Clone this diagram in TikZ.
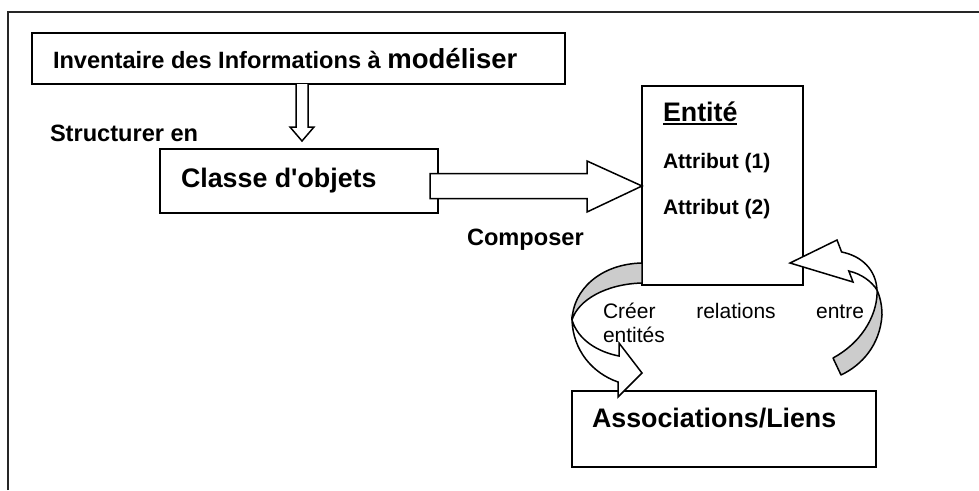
\documentclass[tikz,border=0pt]{standalone}
\usepackage{fontspec}
\setmainfont{Liberation Sans}
\begin{document}
\begin{tikzpicture}[x=1pt,y=-1pt,
  box/.style={draw=black, line width=2pt, fill=white, inner sep=0pt, outer sep=0pt},
  lbl/.style={inner sep=0pt, outer sep=0pt, anchor=base west},
  bmid/.style={font=\bfseries\fontsize{23.6}{28}\selectfont},
  bbig/.style={font=\bfseries\fontsize{26.8}{32}\selectfont},
  bsmall/.style={font=\bfseries\fontsize{21}{25}\selectfont},
  plain/.style={font=\fontsize{21}{24}\selectfont},
  blockarrow/.style={draw=black, line width=1.5pt, fill=white, line join=miter},
  backface/.style={draw=black, line width=1.5pt, fill=gray!40, line join=round},
  frontface/.style={draw=black, line width=1.5pt, fill=white, line join=miter}]
\useasboundingbox (0,0) rectangle (979,490);

% outer frame (left and top edges)
\coordinate (frameBL) at (8,490);
\coordinate (frameTL) at (8,12);
\coordinate (frameTR) at (979,12);
\draw[line width=2pt, black!85] (frameBL) -- (frameTL) -- (frameTR);

% boxes
\node[box, minimum width=533pt, minimum height=51pt] (inv) at (298.5,58.5) {};
\node[box, minimum width=278pt, minimum height=64pt] (classe) at (299,181) {};
\node[box, minimum width=161pt, minimum height=199pt] (entite) at (722.5,185.5) {};
\node[box, minimum width=304pt, minimum height=76pt] (assoc) at (724,429) {};

% hollow arrow: inventory -> object class
\coordinate (dtip) at (302,141);
\draw[blockarrow] (inv.south -| 296,0) -- (296,127) -- (290,127) -- (dtip)
  -- (314,127) -- (308,127) -- (inv.south -| 308,0);

% broad arrow: object class -> entity
\coordinate (rtip) at (entite.west);
\draw[blockarrow] (430,173.5) -- (587,173.5) -- (587,161) -- (rtip |- 0,186)
  -- (587,212) -- (587,198.5) -- (430,198.5) -- cycle;

% curved arrow from the entity down to the associations (left side)
\draw[backface] (642,263) .. controls (600,264) and (573,290) .. (572,320)
  .. controls (578,300) and (606,284) .. (642,283) -- cycle;
\draw[frontface] (572,320) .. controls (573,350) and (592,373) .. (618,382)
  -- (618,397) -- (642,373) -- (619,343) -- (619,356)
  .. controls (598,352) and (578,340) .. (572,320) -- cycle;

% curved arrow from the associations back up to the entity (right side)
\draw[backface] (877,290) .. controls (878,310) and (866,340) .. (833,358)
  -- (841,375) .. controls (862,365) and (880,345) .. (882,315)
  .. controls (882,305) and (880,297) .. (877,290) -- cycle;
\draw[frontface] (841.6,252) .. controls (862,256) and (876,270) .. (877,290)
  .. controls (872,282) and (862,274) .. (848.8,271)
  -- (853,282) -- (790,263) -- (837,240) -- cycle;

% texts
\node[lbl, bmid] (invtxt) at (53,68)
  {Inventaire des Informations à {\fontsize{27.5}{32}\selectfont modéliser}};
\node[lbl, bmid] (struct) at (50,141) {Structurer en};
\node[lbl, bbig] (classetxt) at (181,187) {Classe d\textquotesingle objets};
\node[lbl, bmid] (compose) at (467,245) {Composer};
\node[lbl, bbig] (entitetxt) at (663,121) {Entité};
\draw[line width=2pt] ([yshift=-2.6pt]entitetxt.base west) -- ([yshift=-2.6pt]entitetxt.base east);
\node[lbl, bsmall] (attr1) at (663,168) {Attribut (1)};
\node[lbl, bsmall] (attr2) at (663,214) {Attribut (2)};
\node[lbl, bbig] (assoctxt) at (592,427) {Associations/Liens};
\node[lbl, plain] (w1) at (603,318) {Créer};
\node[lbl, plain, anchor=base] (w2) at (736,318) {relations};
\node[lbl, plain, anchor=base east] (w3) at (864,318) {entre};
\node[lbl, plain] (w4) at (603,342) {entités};
\end{tikzpicture}
\end{document}
